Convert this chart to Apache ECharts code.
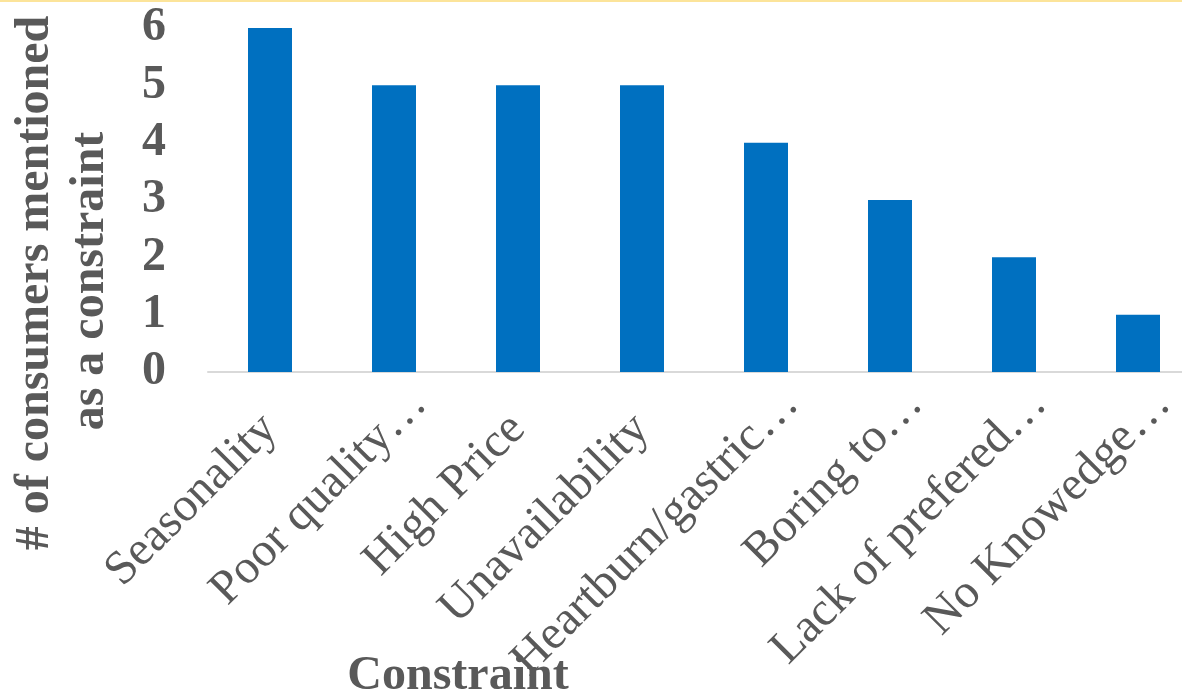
<!DOCTYPE html>
<html>
<head>
<meta charset="utf-8">
<script src="https://cdn.jsdelivr.net/npm/echarts@6/dist/echarts.min.js"></script>
<style>
  html, body { margin: 0; padding: 0; background: #fff; overflow: hidden; }
  #wrap { position: relative; width: 1182px; height: 698px; overflow: hidden; }
  #topline { position: absolute; left: 0; top: 0; width: 1182px; height: 2px; background: #FCE49A; z-index: 2; }
  #bar { position: absolute; left: 0; top: 0; width: 1200px; height: 698px; }
</style>
</head>
<body>
<div id="wrap">
  <div id="topline"></div>
  <div id="bar"></div>
</div>
<script>
// categories (labels are cut off in the original, kept as shown)
const categories = ['Seasonality', 'Poor quality…', 'High Price', 'Unavailability',
  'Heartburn/gastric…', 'Boring to…', 'Lack of prefered…', 'No Knowedge…'];
// number of consumers per constraint
const counts = [6, 5, 5, 5, 4, 3, 2, 1];
const yTicks = [0, 1, 2, 3, 4, 5, 6];

const serif = "'Times New Roman', 'Liberation Serif', serif";
const grey = '#595959';

const myChart = echarts.init(document.getElementById('bar'));

// truncated labels sit further right in the original, like excel does it
const xData = categories.map(c => c.endsWith('…')
  ? { value: c, textStyle: { padding: [0, -36, 0, 0] } }
  : c);

const option = {
  animation: false,
  grid: { left: 208, right: 0, top: 28, bottom: 326, containLabel: false, outerBoundsMode: 'none' },
  xAxis: {
    type: 'category',
    data: xData,
    axisTick: { show: false },
    axisLine: { lineStyle: { color: '#D9D9D9', width: 2 } },
    axisLabel: {
      interval: 0,
      rotate: 45,
      margin: 50,
      fontSize: 48,
      fontFamily: serif,
      color: grey
    }
  },
  yAxis: {
    type: 'value',
    min: yTicks[0],
    max: yTicks[yTicks.length - 1],
    interval: 1,
    splitLine: { show: false },
    axisLine: { show: false },
    axisTick: { show: false },
    axisLabel: {
      margin: 42,
      fontSize: 48,
      fontWeight: 'bold',
      fontFamily: serif,
      color: grey
    }
  },
  // axis titles
  graphic: [
    {
      type: 'text', x: 36, y: 283, rotation: Math.PI / 2,
      style: { text: '# of consumers mentioned', font: 'bold 48px ' + serif, fill: grey, align: 'center', verticalAlign: 'middle' }
    },
    {
      type: 'text', x: 91, y: 281, rotation: Math.PI / 2,
      style: { text: 'as a constraint', font: 'bold 48px ' + serif, fill: grey, align: 'center', verticalAlign: 'middle' }
    },
    {
      type: 'text', x: 458, y: 677,
      style: { text: 'Constraint', font: 'bold 48px ' + serif, fill: grey, align: 'center', verticalAlign: 'middle' }
    }
  ],
  series: [
    {
      type: 'bar',
      data: counts,
      barWidth: 44,
      itemStyle: { color: '#0070C0' }
    }
  ]
};

myChart.setOption(option);
</script>
</body>
</html>
